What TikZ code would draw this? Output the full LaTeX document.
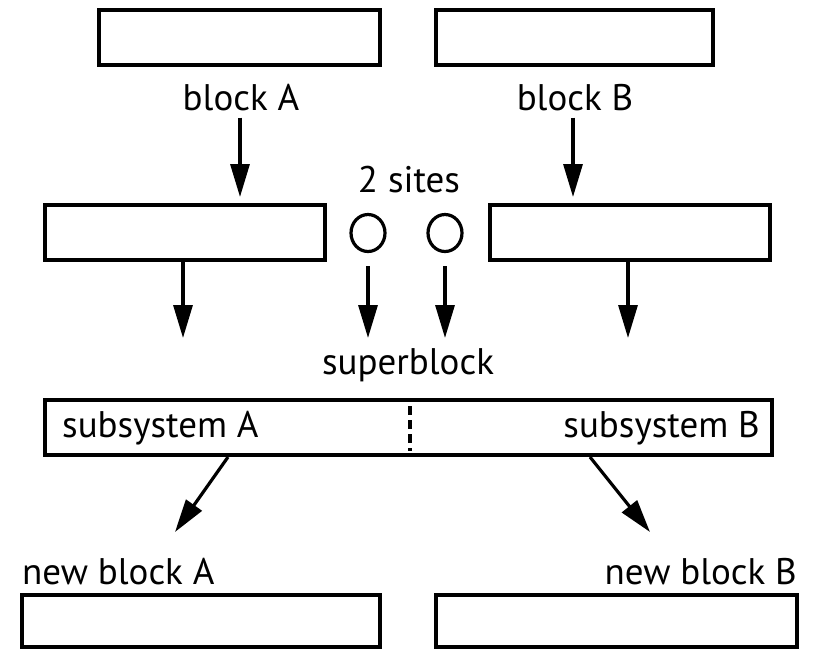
\documentclass[tikz,border=0pt]{standalone}
\usepackage{fontspec}
\setmainfont{PT Sans}
\usetikzlibrary{positioning, arrows.meta, shapes.geometric}

\begin{document}
\begin{tikzpicture}[
    x=1pt, y=-1pt,
    every node/.style={font=\fontsize{37}{40}\selectfont},
    block/.style={
        rectangle,
        draw=black,
        fill=white,
        minimum height=55pt,
        inner sep=0pt,
        line width=4pt
    },
    site/.style={
        ellipse,
        draw=black,
        minimum width=34pt,
        minimum height=37pt,
        inner sep=0pt,
        line width=3.2pt
    },
    label/.style={inner sep=0pt},
    arrow/.style={
        -{Triangle[length=33pt,width=19pt]},
        line width=3.2pt,
        color=black
    }
]
\useasboundingbox (0,0) rectangle (813,649);

% ==================== OLD BLOCKS ====================
\node[block, minimum width=281pt] (blockA) at (239.5,37.5) {};
\node[block, minimum width=277pt] (blockB) at (574.5,37.5) {};
\node[label] (lblA) at (241,98) {block A};
\node[label] (lblB) at (575,98) {block B};

% ==================== ENLARGED BLOCKS ====================
\node[block, minimum width=280pt] (midA) at (185,232.5) {};
\node[block, minimum width=280pt] (midB) at (630,232.5) {};
\node[site] (siteA) at (368,233) {};
\node[site] (siteB) at (445,233) {};
\node[label] (sites) at (409,180) {2 sites};

\draw[arrow, shorten <=6pt, shorten >=6pt] (lblA.south -| 240,0) -- (midA.north -| 240,0);
\draw[arrow, shorten <=6pt, shorten >=6pt] (lblB.south -| 573,0) -- (midB.north -| 573,0);

% ==================== SUPERBLOCK ====================
\node[label] (super) at (408,365) {superblock};
\node[block, minimum width=727pt] (sup) at (408.5,427.5) {};
\node[label, anchor=west] (subA) at (62,428) {subsystem A};
\node[label, anchor=east] (subB) at (760,428) {subsystem B};
\draw[line width=3.2pt, dash pattern=on 9pt off 5pt] (410,406) -- (410,451);

\coordinate (endA) at (183,338);
\coordinate (endS) at (368,338);
\coordinate (endT) at (445,338);
\coordinate (endB) at (628,338);
\draw[arrow] (midA.south -| endA) -- (endA);
\draw[arrow, shorten <=4pt] (siteA.south |- 0,262) -- (endS);
\draw[arrow, shorten <=4pt] (siteB.south |- 0,262) -- (endT);
\draw[arrow] (midB.south -| endB) -- (endB);

% ==================== NEW BLOCKS ====================
\node[label, anchor=west] (newA) at (22,572) {new block A};
\node[label, anchor=east] (newB) at (797,572) {new block B};
\node[block, minimum width=358pt, minimum height=52pt] (botA) at (201,621) {};
\node[block, minimum width=361pt, minimum height=52pt] (botB) at (616.5,621) {};

\coordinate (splitA) at (175,532);
\coordinate (splitB) at (650,532);
\draw[arrow] (sup.south -| 228,0) -- (splitA);
\draw[arrow] (sup.south -| 590,0) -- (splitB);

\end{tikzpicture}
\end{document}
